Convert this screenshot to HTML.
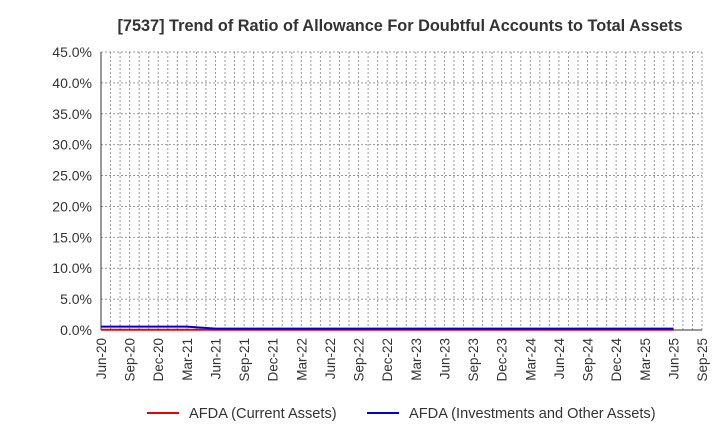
<!DOCTYPE html>
<html><head><meta charset="utf-8"><style>
body{margin:0;background:#fff;}
svg{display:block;font-family:"Liberation Sans",Arial,sans-serif;}
</style></head><body>
<svg id="c" width="720" height="440" xmlns="http://www.w3.org/2000/svg">
<text x="400" y="31" text-anchor="middle" font-size="16.3" font-weight="bold" fill="#333">[7537]  Trend of Ratio of Allowance For Doubtful Accounts to Total Assets</text>
<g id="g"></g>
<line x1="147" y1="413" x2="179" y2="413" stroke="#e00" stroke-width="2"/>
<text x="189" y="418" font-size="14.6" fill="#333">AFDA (Current Assets)</text>
<line x1="367" y1="413" x2="399" y2="413" stroke="#0000dd" stroke-width="2"/>
<text x="409" y="418" font-size="14.6" fill="#333">AFDA (Investments and Other Assets)</text>
</svg>
<script>
var g=document.getElementById('g'),s='';
var X0=101,X1=702,Y0=330,Y1=52,pm=(X1-X0)/63;
for(var m=1;m<=63;m++){var x=X0+m*pm;s+='<line x1="'+x+'" y1="'+Y1+'" x2="'+x+'" y2="'+Y0+'" stroke="#999" stroke-width="1" stroke-dasharray="2,2"/>';}
for(var i=0;i<=9;i++){var y=Y0-i*(Y0-Y1)/9;
 if(i>0)s+='<line x1="'+X0+'" y1="'+y+'" x2="'+X1+'" y2="'+y+'" stroke="#999" stroke-dasharray="2,2"/>';
 s+='<text x="92" y="'+(y+5)+'" text-anchor="end" font-size="14" fill="#333">'+(i*5).toFixed(1)+'%</text>';}
s+='<line x1="'+X0+'" y1="'+Y1+'" x2="'+X0+'" y2="'+Y0+'" stroke="#333"/>';
s+='<line x1="'+X0+'" y1="'+Y0+'" x2="'+X1+'" y2="'+Y0+'" stroke="#333"/>';
var mon=['Jun','Sep','Dec','Mar'],yr=20;
for(var q=0;q<=21;q++){var x=X0+q*3*pm;var mo=mon[q%4];if(mo=='Mar')yr++;
 s+='<text transform="translate('+(x+5)+',338) rotate(-90)" text-anchor="end" font-size="13.5" fill="#333">'+mo+'-'+yr+'</text>';}
function Y(v){return Y0-v*(Y0-Y1)/45;}
var b='',r='';
for(var q=0;q<=20;q++){var x=X0+q*3*pm;var v=q<=3?0.55:0.22;b+=(q?'L':'M')+x+','+Y(v);r+=(q?'L':'M')+x+','+Y(0.05);}
s+='<path d="'+r+'" fill="none" stroke="#e00" stroke-width="2"/>';
s+='<path d="'+b+'" fill="none" stroke="#0000dd" stroke-width="2"/>';
g.innerHTML=s;
</script>
</body></html>
